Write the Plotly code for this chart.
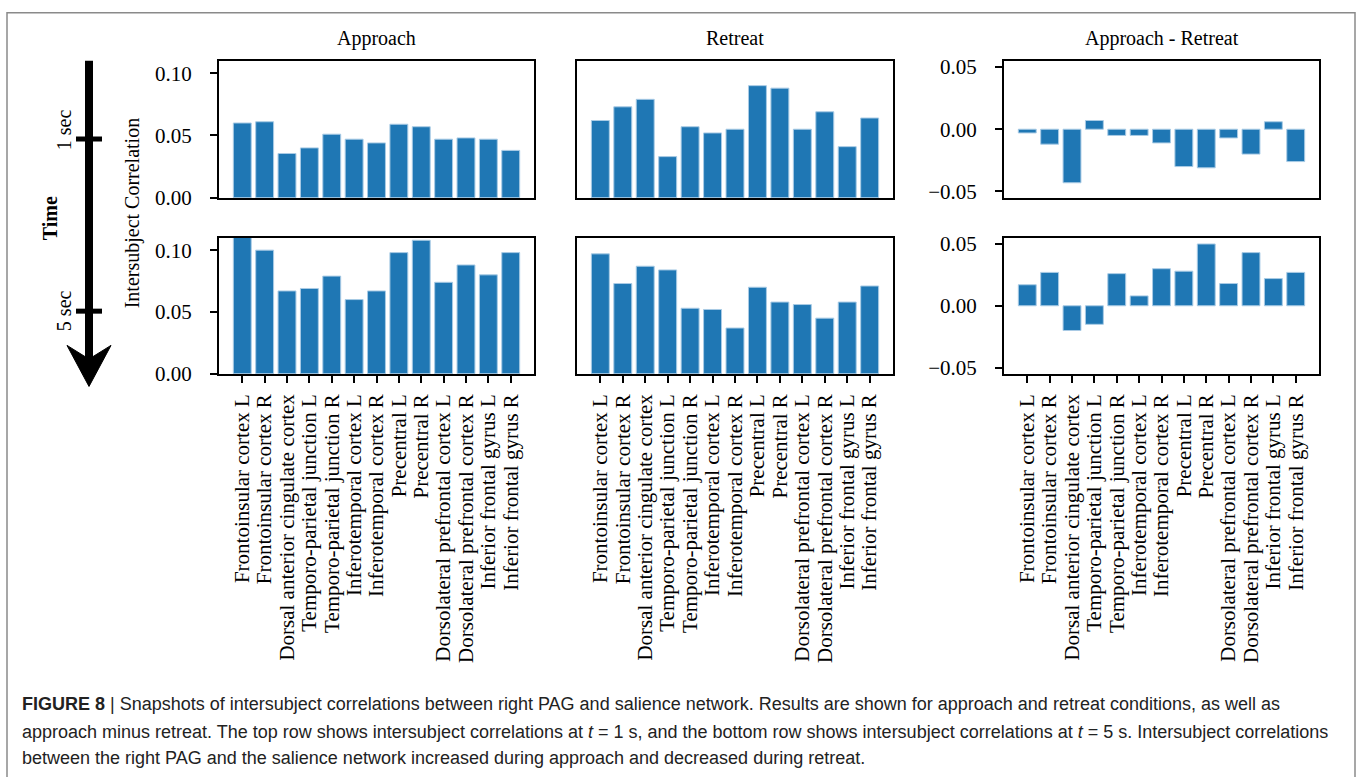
import plotly.graph_objects as go
from plotly.subplots import make_subplots

regions = [
    "Frontoinsular cortex L", "Frontoinsular cortex R", "Dorsal anterior cingulate cortex",
    "Temporo-parietal junction L", "Temporo-parietal junction R", "Inferotemporal cortex L",
    "Inferotemporal cortex R", "Precentral L", "Precentral R",
    "Dorsolateral prefrontal cortex L", "Dorsolateral prefrontal cortex R",
    "Inferior frontal gyrus L", "Inferior frontal gyrus R",
]
col_titles = ["Approach", "Retreat", "Approach - Retreat"]

approach_1s = [0.060, 0.061, 0.0355, 0.040, 0.051, 0.047, 0.044, 0.059, 0.057, 0.047, 0.048, 0.047, 0.038]
retreat_1s = [0.062, 0.073, 0.079, 0.033, 0.057, 0.052, 0.055, 0.090, 0.088, 0.055, 0.069, 0.041, 0.064]
diff_1s = [-0.003, -0.012, -0.043, 0.007, -0.005, -0.005, -0.011, -0.030, -0.031, -0.007, -0.020, 0.006, -0.026]

approach_5s = [0.114, 0.100, 0.067, 0.069, 0.079, 0.060, 0.067, 0.098, 0.108, 0.074, 0.088, 0.080, 0.098]
retreat_5s = [0.097, 0.073, 0.087, 0.084, 0.053, 0.052, 0.037, 0.070, 0.058, 0.056, 0.045, 0.058, 0.071]
diff_5s = [0.017, 0.027, -0.020, -0.015, 0.026, 0.008, 0.030, 0.028, 0.050, 0.018, 0.043, 0.022, 0.027]

caption_lines = [
    "<b>FIGURE 8</b> | Snapshots of intersubject correlations between right PAG and salience network. Results are shown for approach and retreat conditions, as well as",
    "approach minus retreat. The top row shows intersubject correlations at <i>t</i> = 1 s, and the bottom row shows intersubject correlations at <i>t</i> = 5 s. Intersubject correlations",
    "between the right PAG and the salience network increased during approach and decreased during retreat.",
]

W, H = 1358, 777


def px(x):
    return x / W


def py(y):
    return 1 - y / H


SERIF = "Liberation Serif, Times New Roman, serif"
BAR_COLOR = "#1f77b4"

fig = make_subplots(rows=2, cols=3)
data = [[approach_1s, retreat_1s, diff_1s], [approach_5s, retreat_5s, diff_5s]]
xdom = [(219, 534), (577, 893), (1004, 1319)]
ydom = [(57, 197), (238, 377)]
yranges = [[0, 0.11], [0, 0.11], [-0.055, 0.055]]
ytickvals = [[0, 0.05, 0.10], None, [-0.05, 0, 0.05]]

for r in range(2):
    for c in range(3):
        fig.add_trace(
            go.Bar(
                x=regions, y=data[r][c], width=0.8,
                marker=dict(color=BAR_COLOR, line=dict(color="#a9cbe5", width=1)),
                showlegend=False,
            ),
            row=r + 1, col=c + 1,
        )
        i = r * 3 + c + 1
        xa = "xaxis" if i == 1 else f"xaxis{i}"
        ya = "yaxis" if i == 1 else f"yaxis{i}"
        bottom = r == 1
        fig.layout[xa].update(
            domain=[px(xdom[c][0]), px(xdom[c][1])],
            type="category", range=[-1.04, 13.04],
            tickmode="array", tickvals=regions, ticktext=regions,
            showline=True, mirror=True, linecolor="black", linewidth=2,
            showgrid=False, zeroline=False,
            ticks="outside" if bottom else "", ticklen=7, tickwidth=1.5, tickcolor="black",
            showticklabels=bottom, tickangle=-90, ticklabelstandoff=3,
            tickfont=dict(family=SERIF, size=21, color="black"),
        )
        yopts = dict(
            domain=[py(ydom[r][1]), py(ydom[r][0])],
            range=yranges[c],
            showline=True, mirror=True, linecolor="black", linewidth=2,
            showgrid=False, zeroline=False,
            tickfont=dict(family=SERIF, size=21, color="black"),
        )
        if ytickvals[c] is None:
            yopts.update(ticks="", showticklabels=False)
        else:
            yopts.update(ticks="outside", ticklen=7, tickwidth=1.5, tickcolor="black",
                         tickvals=ytickvals[c], tickformat=".2f", showticklabels=True,
                         ticklabelstandoff=14)
        fig.layout[ya].update(**yopts)

annotations = []
for c in range(3):
    annotations.append(dict(
        x=px((xdom[c][0] + xdom[c][1]) / 2), y=py(34), xref="paper", yref="paper",
        text=col_titles[c], showarrow=False, xanchor="center", yanchor="middle",
        font=dict(family=SERIF, size=20, color="black"),
    ))

annotations.append(dict(
    x=px(132), y=py(213), xref="paper", yref="paper", text="Intersubject Correlation",
    textangle=-90, showarrow=False, xanchor="center", yanchor="middle",
    font=dict(family=SERIF, size=20, color="black"),
))
annotations.append(dict(
    x=px(50), y=py(218), xref="paper", yref="paper", text="<b>Time</b>",
    textangle=-90, showarrow=False, xanchor="center", yanchor="middle",
    font=dict(family=SERIF, size=20, color="black"),
))
for lbl, yy in [("1 sec", 128), ("5 sec", 313)]:
    annotations.append(dict(
        x=px(64), y=py(yy), xref="paper", yref="paper", text=lbl,
        textangle=-90, showarrow=False, xanchor="center", yanchor="middle",
        font=dict(family=SERIF, size=20, color="black"),
    ))

CAP = "Liberation Sans, Arial, sans-serif"
for line, yy in zip(caption_lines, [715, 743, 770]):
    annotations.append(dict(
        x=px(20), y=py(yy), xref="paper", yref="paper", text=line,
        showarrow=False, xanchor="left", yanchor="middle", align="left",
        font=dict(family=CAP, size=18, color="#222222"),
    ))

shapes = []
# outer border
shapes.append(dict(type="rect", xref="paper", yref="paper",
                   x0=px(7), x1=px(1355), y0=py(790), y1=py(8),
                   line=dict(color="#8a8a8a", width=1.5), fillcolor="rgba(0,0,0,0)"))
# time arrow shaft
shapes.append(dict(type="line", xref="paper", yref="paper",
                   x0=px(89), x1=px(89), y0=py(57), y1=py(362),
                   line=dict(color="black", width=8)))
# tick marks on arrow
for yy in (137, 313):
    shapes.append(dict(type="line", xref="paper", yref="paper",
                       x0=px(76), x1=px(102), y0=py(yy), y1=py(yy),
                       line=dict(color="black", width=5)))
# arrow head
pts = [(89, 390), (67, 348), (89, 362), (111, 348)]
path = "M " + " L ".join(f"{px(a):.5f},{py(b):.5f}" for a, b in pts) + " Z"
shapes.append(dict(type="path", xref="paper", yref="paper", path=path,
                   fillcolor="black", line=dict(color="black", width=1)))

fig.update_layout(
    width=W, height=H, margin=dict(l=0, r=0, t=0, b=0),
    paper_bgcolor="white", plot_bgcolor="white",
    annotations=annotations, shapes=shapes, bargap=0.2,
)

fig.write_html("out.html")
